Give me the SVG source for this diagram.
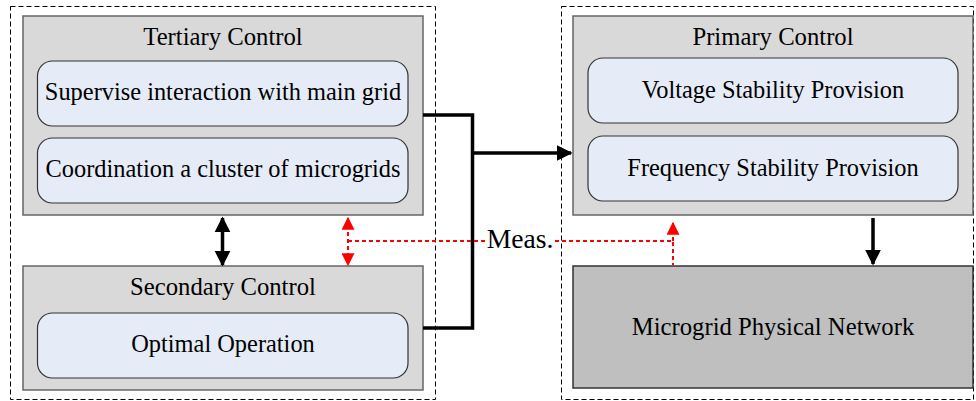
<svg xmlns="http://www.w3.org/2000/svg" width="976" height="401" viewBox="0 0 976 401">
<defs>
<style>
.dash{fill:none;stroke:#000;stroke-width:1;stroke-dasharray:5,3}
.outer{fill:#d9d9d9;stroke:#666;stroke-width:1.5}
.inner{fill:#e6ecf7;stroke:#333;stroke-width:1.2}
.net{fill:#bfbfbf;stroke:#333;stroke-width:1.5}
text{font-family:"Liberation Serif","Times New Roman",serif;fill:#000;text-anchor:middle}
.t{font-size:24.7px}
.s{font-size:24.4px}
.blk{fill:none;stroke:#000;stroke-width:3.5}
.red{fill:none;stroke:#f00;stroke-width:2;stroke-dasharray:4,3}
</style>
<marker id="ab" viewBox="0 0 10 10" refX="9" refY="5" markerWidth="4.6" markerHeight="4.6" orient="auto-start-reverse" markerUnits="strokeWidth">
<path d="M0,0 L10,5 L0,10 Z" fill="#000"/>
</marker>
<marker id="ar" viewBox="0 0 10 10" refX="9" refY="5" markerWidth="6.5" markerHeight="6.5" orient="auto-start-reverse" markerUnits="strokeWidth">
<path d="M0,0 L10,5 L0,10 Z" fill="#f00"/>
</marker>
</defs>
<rect class="dash" x="10.5" y="6.5" width="425" height="393"/>
<rect class="dash" x="561.5" y="6.5" width="412" height="393"/>
<g id="tertiary">
<rect class="outer" x="23" y="16" width="400" height="199"/>
<text class="t" x="223" y="45">Tertiary Control</text>
<rect class="inner" x="37.5" y="61" width="370.5" height="65" rx="15"/>
<text class="s" x="223" y="100">Supervise interaction with main grid</text>
<rect class="inner" x="37.5" y="138" width="370.5" height="65" rx="15"/>
<text class="s" x="223" y="177">Coordination a cluster of microgrids</text>
</g>
<g id="secondary">
<rect class="outer" x="23" y="266" width="400" height="124"/>
<text class="t" x="223" y="295">Secondary Control</text>
<rect class="inner" x="37.5" y="313" width="370.5" height="65" rx="15"/>
<text class="s" x="223" y="352">Optimal Operation</text>
</g>
<g id="primary">
<rect class="outer" x="573" y="16" width="400" height="199"/>
<text class="t" x="773" y="45">Primary Control</text>
<rect class="inner" x="588" y="58" width="370" height="65" rx="15"/>
<text class="s" x="773" y="98">Voltage Stability Provision</text>
<rect class="inner" x="588" y="136" width="370" height="65" rx="15"/>
<text class="s" x="773" y="176">Frequency Stability Provision</text>
</g>
<g id="network">
<rect class="net" x="573" y="266" width="400" height="122"/>
<text class="t" x="773" y="335">Microgrid Physical Network</text>
</g>
<g id="connectors">
<polyline class="blk" points="423,115 472.5,115 472.5,328 423,328" stroke-linejoin="miter"/>
<line class="blk" x1="472.5" y1="153" x2="571" y2="153" marker-end="url(#ab)"/>
<line class="blk" x1="222.5" y1="218" x2="222.5" y2="265" marker-start="url(#ab)" marker-end="url(#ab)"/>
<line class="blk" x1="873" y1="218" x2="873" y2="264" marker-end="url(#ab)"/>
<line class="red" x1="348" y1="218" x2="348" y2="265" marker-start="url(#ar)" marker-end="url(#ar)"/>
<polyline class="red" points="348,241 487,241"/>
<polyline class="red" points="555,241 673,241 673,265"/>
<line class="red" x1="673" y1="241" x2="673" y2="223" marker-end="url(#ar)"/>
<text x="520" y="248" style="font-size:27.6px">Meas.</text>
</g>
</svg>
